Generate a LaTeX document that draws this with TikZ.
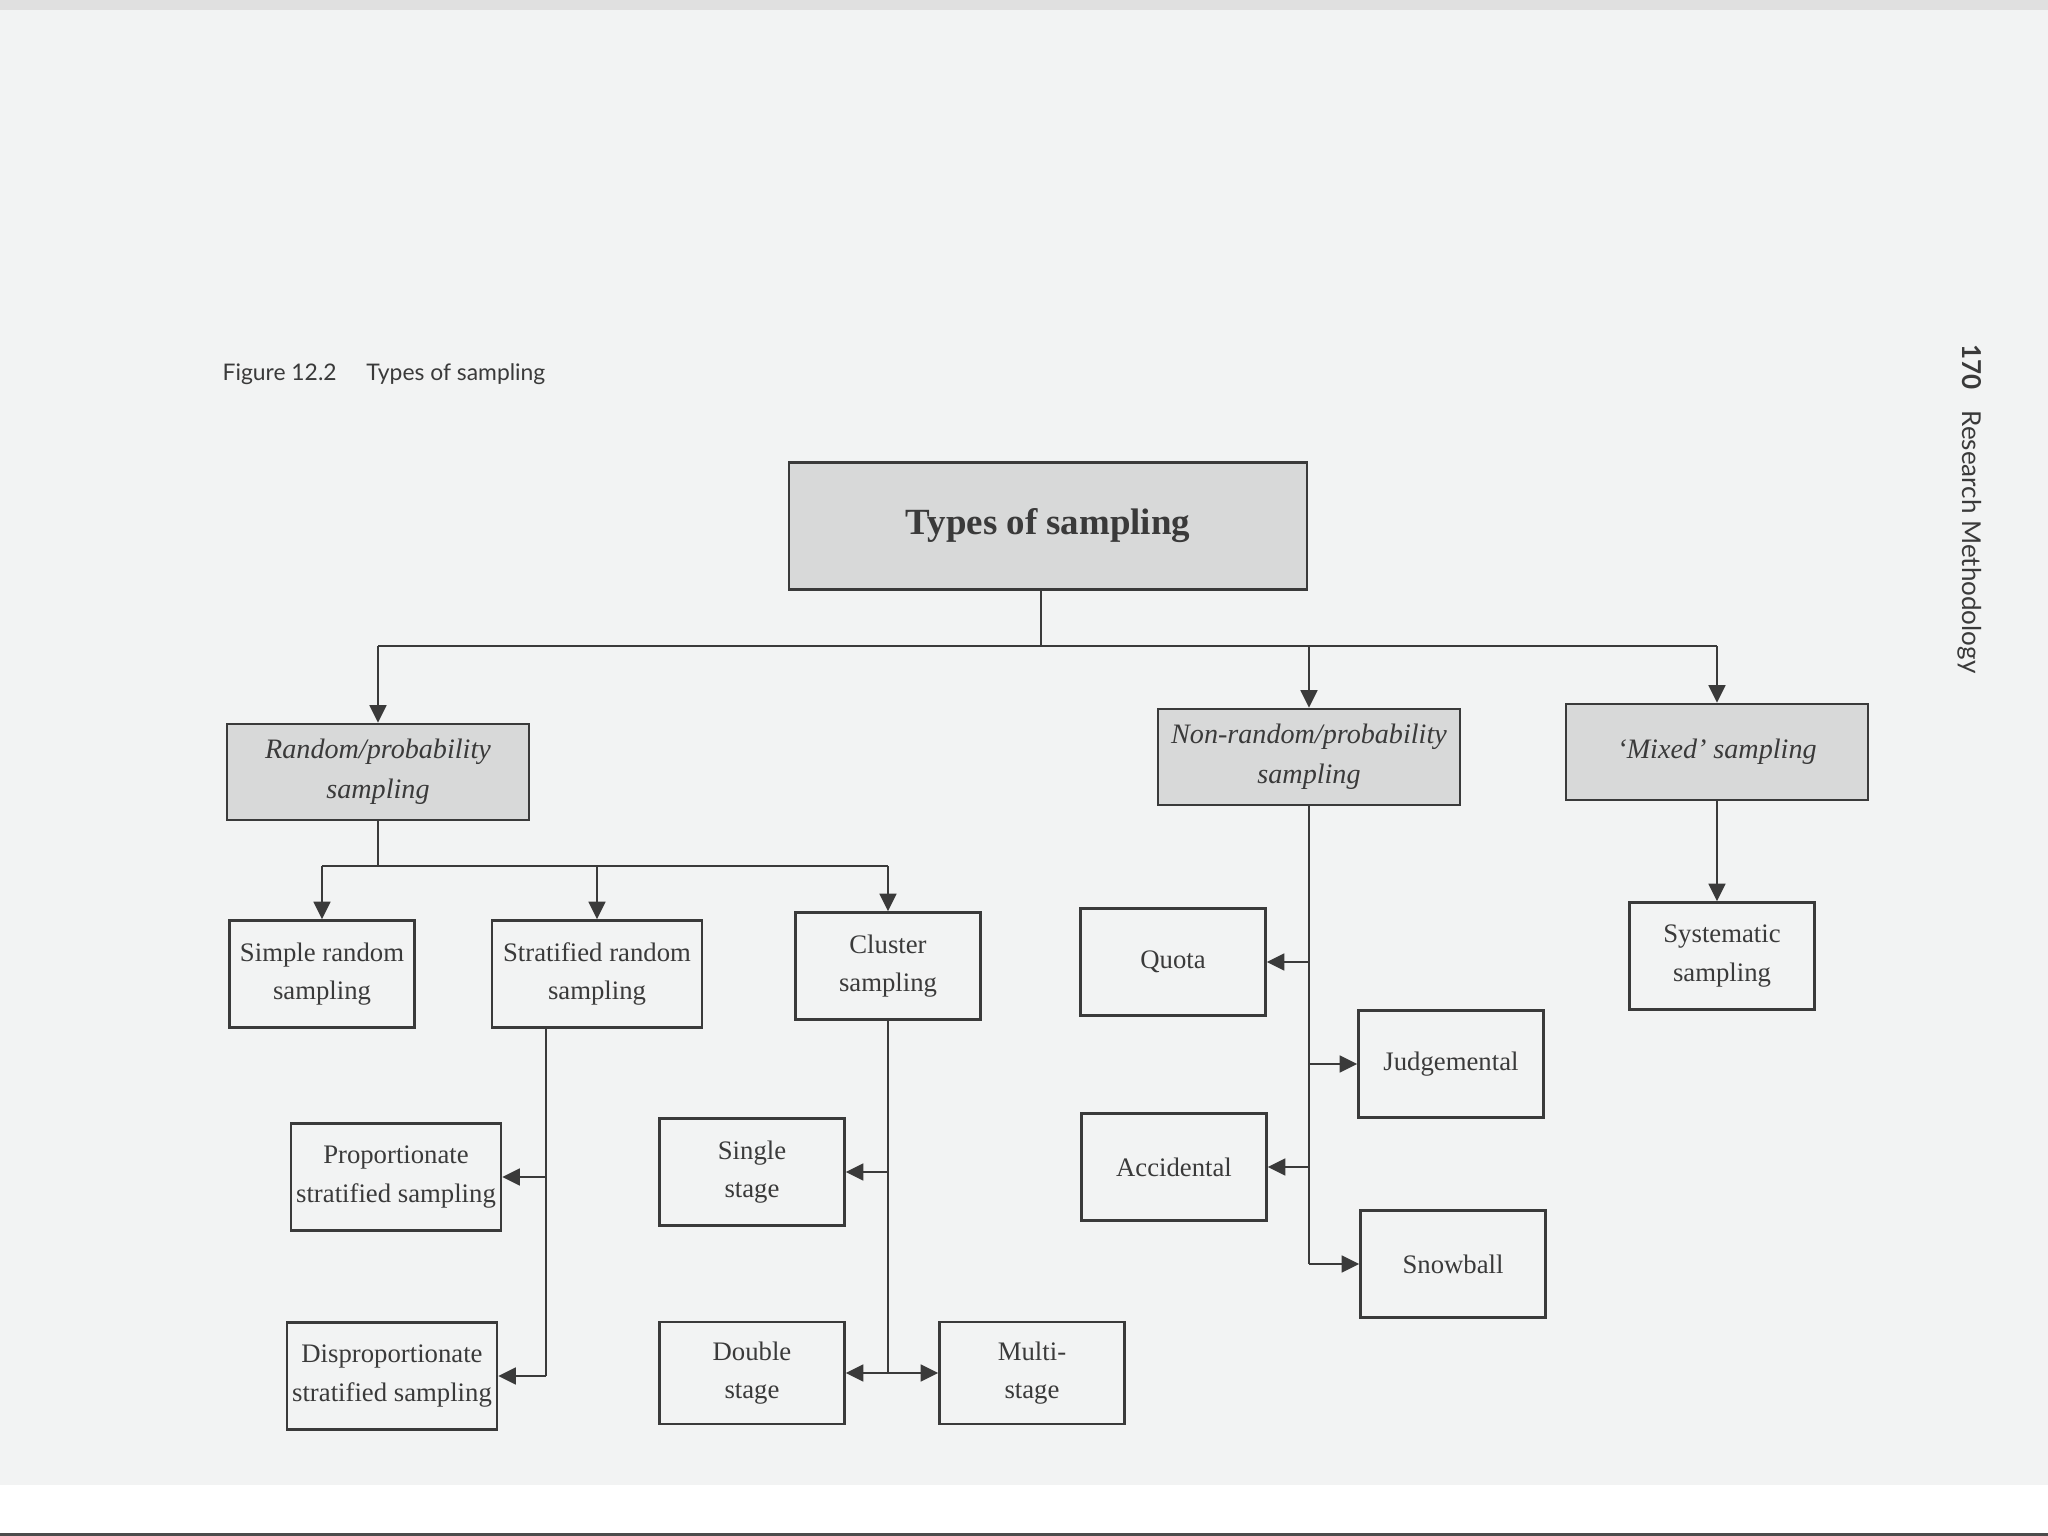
\documentclass[tikz,border=0pt]{standalone}
\usepackage{fontspec}
\setmainfont{Liberation Serif}
\newfontfamily\capfont{Lato}
\usetikzlibrary{arrows.meta}
\definecolor{page}{HTML}{F2F3F3}
\definecolor{ink}{HTML}{3A3A3A}
\definecolor{headfill}{HTML}{D8D9D9}

\begin{document}
\begin{tikzpicture}[x=0.01cm, y=-0.01cm, >={Triangle[length=5pt,width=4.8pt]},
  every node/.style={font=\fontsize{7.6}{11}\selectfont, text=ink},
  box/.style={draw=ink, line width=0.7pt, align=center, inner sep=1pt},
  head/.style={box, fill=headfill, minimum width=3.02cm, minimum height=0.96cm, font=\fontsize{8}{11.5}\selectfont\itshape},
  leaf/.style={box, fill=page, minimum width=1.85cm, minimum height=1.07cm},
  wide/.style={leaf, minimum width=2.1cm},
  link/.style={draw=ink, line width=0.6pt}]

% Page background
\useasboundingbox (0,0) rectangle (2048,1536);
\fill[page] (0,0) rectangle (2048,1536);
\fill[black!12] (0,0) rectangle (2048,10);
\fill[white] (0,1485) rectangle (2048,1536);
\fill[black!70] (0,1533) rectangle (2048,1536);

% Caption and running head
\node[anchor=west, inner sep=0pt, font=\capfont\fontsize{6.5}{8}\selectfont] (cap) at (222,374) {Figure 12.2\hspace{1.3em}Types of sampling};
\node[rotate=-90, inner sep=0pt, font=\capfont\fontsize{7.4}{9}\selectfont] (runhead) at (1970,509) {\textbf{170}\hspace{0.8em}Research Methodology};

% Top level
\node[box, fill=headfill, minimum width=5.18cm, minimum height=1.27cm, font=\fontsize{10.5}{12}\selectfont\bfseries] (types) at (1048,526) {Types of sampling};

% Main branches
\node[head] (rand) at (378,772) {Random/probability\\sampling};
\node[head] (nonrand) at (1309,757) {Non-random/probability\\sampling};
\node[head] (mixed) at (1717,752) {`Mixed' sampling};

% Random branch
\node[leaf] (simple) at (322,974) {Simple random\\sampling};
\node[wide] (strat) at (597,974) {Stratified random\\sampling};
\node[leaf] (clus) at (888,966) {Cluster\\sampling};
\node[wide] (prop) at (396,1177) {Proportionate\\stratified sampling};
\node[wide] (disprop) at (392,1376) {Disproportionate\\stratified sampling};
\node[leaf] (single) at (752,1172) {Single\\stage};
\node[leaf, minimum height=1.02cm] (double) at (752,1373) {Double\\stage};
\node[leaf, minimum height=1.02cm] (multi) at (1032,1373) {Multi-\\stage};

% Non-random branch
\node[leaf] (quota) at (1173,962) {Quota};
\node[leaf] (judge) at (1451,1064) {Judgemental};
\node[leaf] (accid) at (1174,1167) {Accidental};
\node[leaf] (snow) at (1453,1264) {Snowball};

% Mixed branch
\node[leaf] (syst) at (1722,956) {Systematic\\sampling};

% Junctions
\coordinate (bar) at (1041,646);
\coordinate (subbar) at (0,866);
\coordinate (stratx) at (546,0);

% Connectors from the top
\draw[link] (types.south -| bar) -- (bar);
\draw[link] (rand |- bar) -- (mixed |- bar);
\foreach \n in {rand, nonrand, mixed} \draw[link, ->] (\n |- bar) -- (\n.north);

% Random branch connectors
\draw[link] (rand.south) -- (rand |- subbar);
\draw[link] (simple |- subbar) -- (clus |- subbar);
\foreach \n in {simple, strat, clus} \draw[link, ->] (\n |- subbar) -- (\n.north);
\draw[link] (strat.south -| stratx) -- (stratx |- disprop);
\foreach \n in {prop, disprop} \draw[link, ->] (stratx |- \n) -- (\n.east);
\draw[link] (clus.south) -- (clus |- multi);
\draw[link, ->] (clus |- single) -- (single.east);
\draw[link, <->] (double.east) -- (multi.west);

% Non-random branch connectors
\draw[link] (nonrand.south) -- (nonrand |- snow);
\foreach \n in {quota, accid} \draw[link, ->] (nonrand |- \n) -- (\n.east);
\foreach \n in {judge, snow} \draw[link, ->] (nonrand |- \n) -- (\n.west);

% Mixed branch connector
\draw[link, ->] (mixed.south) -- (mixed |- syst.north);
\end{tikzpicture}
\end{document}
